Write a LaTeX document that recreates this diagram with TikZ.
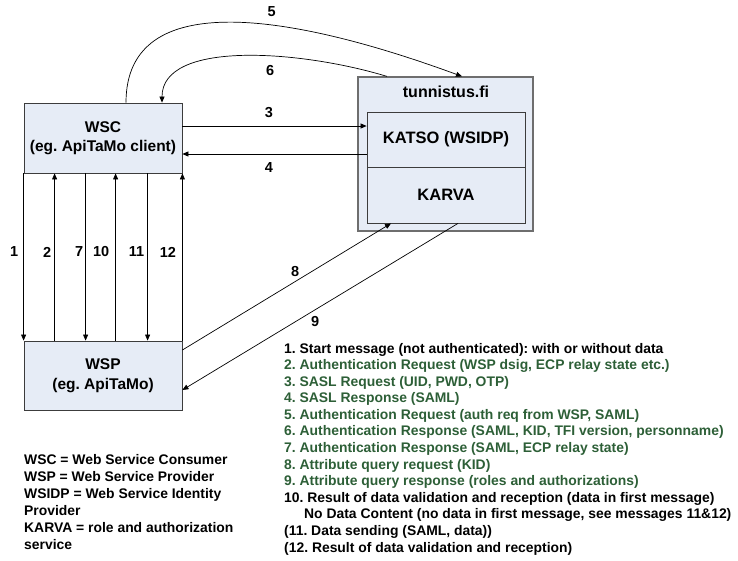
\documentclass[tikz,border=0pt]{standalone}
\usepackage{fontspec}
\setmainfont{Liberation Sans}
\usetikzlibrary{arrows.meta}
\definecolor{boxfill}{RGB}{230,236,246}
\definecolor{boxline}{RGB}{60,60,60}
\definecolor{outerline}{RGB}{110,110,110}
\definecolor{leggreen}{RGB}{45,95,55}
\frenchspacing
\begin{document}
\begin{tikzpicture}[x=1pt,y=-1pt,
  box/.style={draw=boxline, fill=boxfill, line width=0.8pt, inner sep=0pt, align=center,
    font=\fontsize{15.5}{19.5}\selectfont\bfseries},
  msg/.style={-{Triangle[length=6pt,width=5pt]}, line width=0.7pt},
  num/.style={font=\fontsize{14.5}{16}\selectfont\bfseries, inner sep=0pt},
  leg/.style={anchor=base west, inner sep=0pt, font=\fontsize{13.9}{16}\selectfont\bfseries},
  legg/.style={leg, text=leggreen}]
\useasboundingbox (0,0) rectangle (738,560);

% boxes
\node[box, minimum width=158pt, minimum height=70pt] (wsc) at (103,138) {WSC\\(eg. ApiTaMo client)};
\node[box, minimum width=158pt, minimum height=69pt] (wsp) at (103,375.5) {WSP\\(eg. ApiTaMo)};
\node[box, draw=outerline, line width=1.2pt, minimum width=175pt, minimum height=154pt] (tun) at (445.5,154) {};
\node[font=\fontsize{16}{18}\selectfont\bfseries, inner sep=0pt] (tunlbl) at (446,92) {tunnistus.fi};
\node[box, font=\fontsize{16.5}{18}\selectfont\bfseries, minimum width=158pt, minimum height=55pt] (katso) at (446,139.5) {KATSO (WSIDP)};
\node[box, font=\fontsize{16.5}{18}\selectfont\bfseries, minimum width=158pt, minimum height=56pt] (karva) at (446,195) {KARVA};

% horizontal messages
\draw[msg] (wsc.east |- 0,126) -- (katso.west |- 0,126) node[num, pos=0.47, above=8pt] {3};
\draw[msg] (katso.west |- 0,154) -- (wsc.east |- 0,154) node[num, pos=0.53, below=8pt] {4};

% arcs
\draw[msg] (wsc.north -| 126,0) .. controls (126,-15) and (295,15) .. (tun.north -| 462,0) node[num, pos=0.6, above=8pt] {5};
\draw[msg] (tun.north -| 387,0) .. controls (300,50) and (162,40) .. (wsc.north -| 162,0) node[num, pos=0.4, below=8.5pt] {6};

% vertical messages
\draw[msg] (wsc.south west) -- (wsp.north west) node[num, pos=0.47, left=5pt] {1};
\draw[msg] ([xshift=31pt]wsp.north west) -- ([xshift=31pt]wsc.south west) node[num, pos=0.53, left=3pt] {2};
\draw[msg] ([xshift=62pt]wsc.south west) -- ([xshift=62pt]wsp.north west) node[num, pos=0.47, left=2pt] {7};
\draw[msg] ([xshift=92pt]wsp.north west) -- ([xshift=92pt]wsc.south west) node[num, pos=0.53, left=6pt] {10};
\draw[msg] ([xshift=124pt]wsc.south west) -- ([xshift=124pt]wsp.north west) node[num, pos=0.47, left=3pt] {11};
\draw[msg] (wsp.north east) -- (wsc.south east) node[num, pos=0.53, left=6pt] {12};

% diagonal messages
\draw[msg] (wsp.east |- 0,350) -- (karva.south -| 391,0) node[num, pos=0.54, above=5pt] {8};
\draw[msg] (karva.south -| 458,0) -- (wsp.east |- 0,390) node[num, pos=0.518, below=6pt] {9};

% message legend
\node[leg]  (l1)  at (284,353) {1. Start message (not authenticated): with or without data};
\node[legg] (l2)  at (284,369.6) {2. Authentication Request (WSP dsig, ECP relay state etc.)};
\node[legg] (l3)  at (284,386.2) {3. SASL Request (UID, PWD, OTP)};
\node[legg] (l4)  at (284,402.7) {4. SASL Response (SAML)};
\node[legg] (l5)  at (284,419.3) {5. Authentication Request (auth req from WSP, SAML)};
\node[legg] (l6)  at (284,435.9) {6. Authentication Response (SAML, KID, TFI version, personname)};
\node[legg] (l7)  at (284,452.5) {7. Authentication Response (SAML, ECP relay state)};
\node[legg] (l8)  at (284,469.1) {8. Attribute query request (KID)};
\node[legg] (l9)  at (284,485.6) {9. Attribute query response (roles and authorizations)};
\node[leg]  (l10) at (284,502.2) {10. Result of data validation and reception (data in first message)};
\node[leg]  (l10b) at (304,518.8) {No Data Content (no data in first message, see messages 11\&12)};
\node[leg]  (l11) at (284,535.4) {(11. Data sending (SAML, data))};
\node[leg]  (l12) at (284,552) {(12. Result of data validation and reception)};

% abbreviations
\node[leg] (a1) at (24,464) {WSC = Web Service Consumer};
\node[leg] (a2) at (24,481) {WSP = Web Service Provider};
\node[leg] (a3) at (24,498) {WSIDP = Web Service Identity};
\node[leg] (a4) at (24,515) {Provider};
\node[leg] (a5) at (24,532) {KARVA = role and authorization};
\node[leg] (a6) at (24,549) {service};
\end{tikzpicture}
\end{document}
